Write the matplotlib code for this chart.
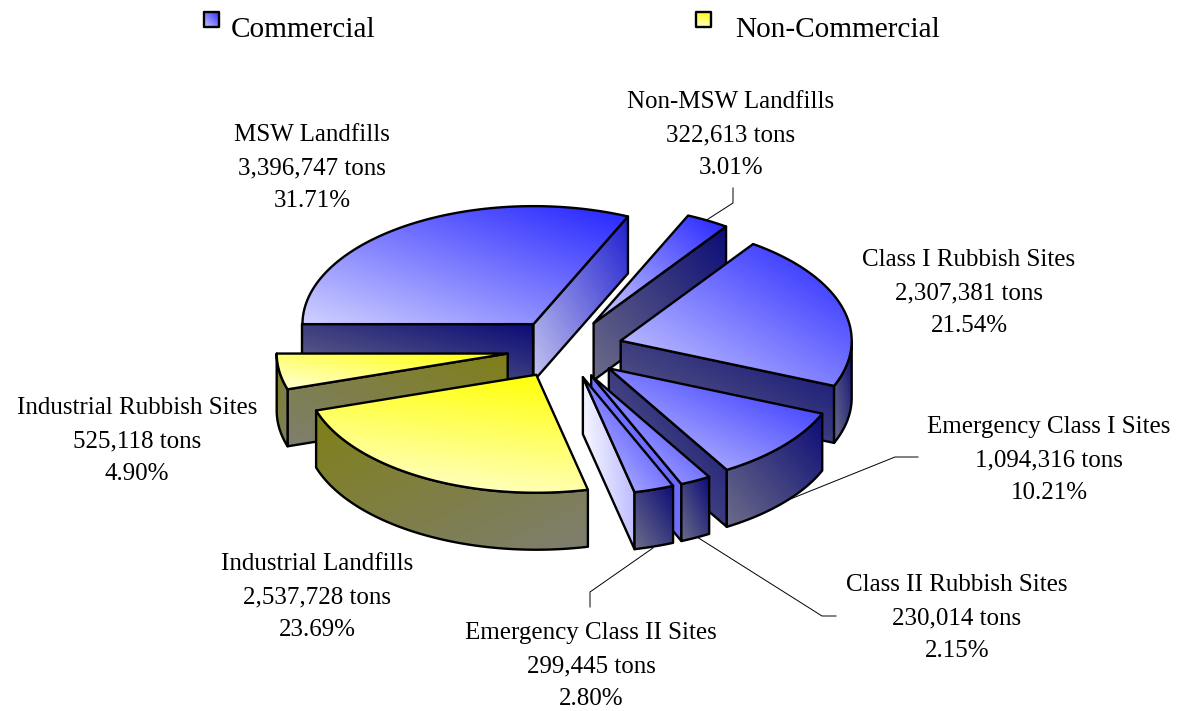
import numpy as np
import matplotlib
matplotlib.use('Agg')
import matplotlib.pyplot as plt
from matplotlib.patches import Polygon

plt.rcParams['font.family'] = ['Liberation Serif', 'DejaVu Serif']

names = ['MSW Landfills', 'Non-MSW Landfills', 'Class I Rubbish Sites', 'Emergency Class I Sites',
         'Class II Rubbish Sites', 'Emergency Class II Sites', 'Industrial Landfills', 'Industrial Rubbish Sites']
tons = [3396747, 322613, 2307381, 1094316, 230014, 299445, 2537728, 525118]
percents = [31.71, 3.01, 21.54, 10.21, 2.15, 2.80, 23.69, 4.90]
legend_names = ['Commercial', 'Non-Commercial']

# geometry of the fake 3d pie, in pixels
CX, CY = 565, 349
RX, RY = 231, 118
DEPTH = 57
EXPLODE = 58
START = 270  # degrees clockwise from 12 o'clock

# label centres and leader lines
label_pos = [(312, 168), (731, 135), (969, 293), (1049, 460), (957, 618), (591, 666), (317, 597), (137, 441)]
leaders = {1: [(705, 221), (733, 203), (733, 188)],
           3: [(778, 504), (895, 457), (918, 457)],
           4: [(697, 537), (822, 616), (836, 616)],
           5: [(653, 548), (590, 592), (590, 607)]}

BLUE_TOP = ('#d0d0ff', '#2424ff')
YELLOW_TOP = ('#ffffd8', '#ffff00')
NAVY = ('#6c6c88', '#0c0c78')
OLIVE = ('#7e7e70', '#808018')
top_colors = [BLUE_TOP] * 6 + [YELLOW_TOP] * 2
wall_colors = [NAVY] * 6 + [OLIVE] * 2
# radial faces that are not the plain dark shade
face_colors = {(0, 'b'): ('#c4c4f0', '#2020d0'),
               (4, 'b'): ('#8080ff', '#6060ff'),
               (5, 'b'): ('#ffffff', '#b4b4ff')}
# gradient direction of the top of a slice, default is to the upper right
top_dirs = {6: (0.25, 1)}
wall_dirs = {6: (-1, 1), 7: (-1, 1)}

fig = plt.figure(figsize=(11.82, 7.11), dpi=100)
ax = fig.add_axes([0, 0, 1, 1])


def gradient_poly(pts, colors, du=1.0, dv=1.0, z=1):
    pts = np.array(pts)
    x0, y0 = pts.min(axis=0)
    x1, y1 = pts.max(axis=0)
    u, v = np.meshgrid(np.linspace(0, 1, 80), np.linspace(1, 0, 80))
    if du < 0:
        u = 1 - u
    # row 0 of the image is the top of the box
    t = ((abs(du) * u + dv * v) / (abs(du) + dv))[..., None]
    c0 = np.array(matplotlib.colors.to_rgb(colors[0]))
    c1 = np.array(matplotlib.colors.to_rgb(colors[1]))
    im = ax.imshow(c0 * (1 - t) + c1 * t, extent=(x0, x1, y1, y0), origin='upper', aspect='auto',
                   interpolation='bilinear', zorder=z)
    patch = Polygon(pts, closed=True, fill=False, edgecolor='black', linewidth=1.7,
                    joinstyle='round', zorder=z + 0.5)
    ax.add_patch(patch)
    im.set_clip_path(patch)


def rim(apex, a, b):
    th = np.radians(np.linspace(a, b, 80))
    return np.column_stack([apex[0] + RX * np.sin(th), apex[1] - RY * np.cos(th)])


def draw_slice(i, apex, a, b, z):
    top = rim(apex, a, b)
    drop = np.array([0, DEPTH])
    for side, ang, pt in (('a', a, top[0]), ('b', b, top[-1])):
        # does the radial face look towards the viewer
        look = -np.sin(np.radians(ang)) if side == 'b' else np.sin(np.radians(ang))
        if look < 0:
            cols = face_colors.get((i, side), wall_colors[i])
            du, dv = (1, 0.2) if (i, side) == (5, 'b') else (1, 1)
            gradient_poly([apex, pt, pt + drop, np.array(apex) + drop], cols, du, dv, z)
            z += 1
    lo, hi = max(a, 90), min(b, 270)
    if hi > lo:
        arc = rim(apex, lo, hi)
        du, dv = wall_dirs.get(i, (1, 1))
        gradient_poly(np.vstack([arc, (arc + drop)[::-1]]), wall_colors[i], du, dv, z)
        z += 1
    du, dv = top_dirs.get(i, (1, 1))
    gradient_poly(np.vstack([[apex], top]), top_colors[i], du, dv, z)


edges = START + np.concatenate([[0], np.cumsum(tons)]) / np.sum(tons) * 360
slices = []
for i in range(len(tons)):
    a, b = edges[i], edges[i + 1]
    mid = np.radians((a + b) / 2)
    apex = (CX + EXPLODE * np.sin(mid), CY - EXPLODE * RY / RX * np.cos(mid))
    a, b = a % 360, b % 360
    if b <= a:
        b += 360
    slices.append((apex[1], i, apex, a, b))

# back to front
z = 2
for _, i, apex, a, b in sorted(slices, key=lambda s: s[0]):
    draw_slice(i, apex, a, b, z)
    z += 5

for i, (x, y) in enumerate(label_pos):
    ax.text(x, y, '%s\n%s tons\n%.2f%%' % (names[i], format(tons[i], ','), percents[i]),
            ha='center', va='center', fontsize=18, linespacing=1.66, color='black', zorder=100)

for pts in leaders.values():
    pts = np.array(pts)
    ax.plot(pts[:, 0], pts[:, 1], color='black', lw=0.7, zorder=1)

# legend
gradient_poly([(204, 12), (219, 12), (219, 27), (204, 27)], ('#c8c8ff', '#3030ff'), 1, 1, 90)
gradient_poly([(696, 12), (711, 12), (711, 27), (696, 27)], YELLOW_TOP, 0.25, 1, 90)
ax.text(231, 30, legend_names[0], fontsize=21.1, ha='left', va='center', zorder=100)
ax.text(735, 30, legend_names[1], fontsize=21.1, ha='left', va='center', zorder=100)

ax.set_xlim(0, 1182)
ax.set_ylim(711, 0)
ax.axis('off')
fig.savefig('out.png', dpi=100, facecolor='white')
